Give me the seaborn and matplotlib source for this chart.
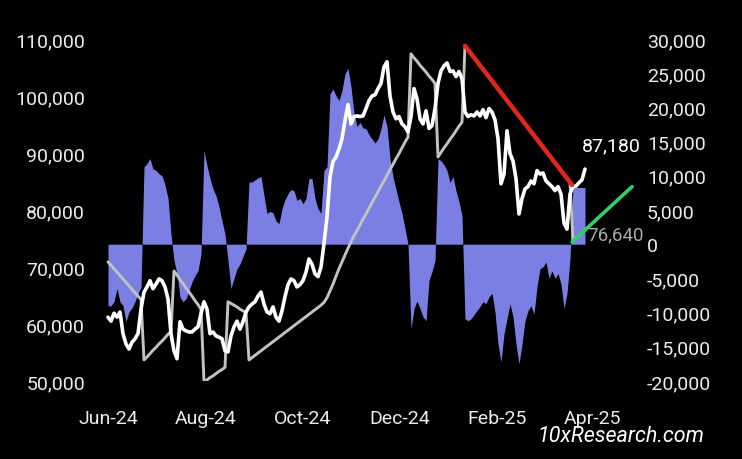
import numpy as np
import pandas as pd
import matplotlib
matplotlib.use("Agg")
import matplotlib.pyplot as plt
import seaborn as sns
from matplotlib.ticker import FuncFormatter

# ---------------- data ----------------
price = [
    61200, 60500, 61900, 61200, 62100, 58300, 56500, 55600, 56800, 57400,
    58300, 62600, 65600, 66500, 67600, 66200, 67000, 67900, 67600, 66500,
    64400, 58300, 55300, 53900, 60400, 59100, 58800, 58600, 58600, 59100,
    59500, 61800, 63900, 62600, 58300, 58600, 57900, 57700, 57400, 55300,
    55100, 57900, 59500, 60500, 59100, 60400, 62100, 63000, 63500, 63900,
    64900, 65600, 63500, 62100, 61800, 63000, 61200, 60500, 62300, 64800,
    66900, 67900, 67600, 66500, 66900, 67600, 69100, 71400, 70500, 68800,
    68300, 70000, 74100, 78800, 85800, 88500, 89300, 90700, 92500, 95700,
    98500, 95100, 96400, 96500, 96400, 96500, 97800, 99200, 100000, 100200,
    101300, 102200, 105100, 106000, 100000, 97200, 96000, 96400, 95100, 94600,
    93700, 96400, 101300, 99500, 96000, 95100, 97400, 94300, 94800, 97800,
    102200, 104400, 105300, 105800, 104300, 104400, 103400, 104300, 103000, 97200,
    96400, 96700, 96500, 97200, 96500, 97600, 96200, 97800, 97200, 95800,
    92500, 84600, 86300, 93900, 89900, 88600, 85500, 79300, 82000, 83700,
    84100, 85100, 84600, 86900, 86300, 86500, 85100, 84600, 84100, 83400,
    84100, 82800, 77700, 76640, 82800, 84100, 84200, 84800, 85300, 87180,
]

reference_level = [
    70900, 70300, 69700, 69100, 68500, 67900, 67300, 66700, 66100, 65500,
    64900, 64300, 53700, 54200, 54800, 55400, 55900, 56500, 57000, 57600,
    58200, 58700, 69300, 68600, 67800, 67100, 66300, 65600, 64900, 64100,
    63400, 62600, 49900, 50200, 50600, 50900, 51300, 51700, 52000, 52400,
    63900, 63600, 63300, 63000, 62600, 62300, 62000, 53700, 54100, 54500,
    54900, 55300, 55700, 56100, 56500, 56900, 57300, 57700, 58100, 58500,
    58900, 59300, 59700, 60100, 60500, 60900, 61300, 61700, 62100, 62500,
    62900, 63300, 63800, 64600, 65800, 67000, 68400, 69700, 70900, 72100,
    73300, 74400, 75500, 76400, 77400, 78400, 79300, 80300, 81300, 82200,
    83200, 84200, 85100, 86100, 87100, 88000, 89000, 89900, 90900, 91900,
    92800, 107400, 106700, 106100, 105400, 104800, 104200, 103500, 102900, 102200,
    89300, 90100, 90900, 91600, 92400, 93100, 93900, 94700, 95400, 108800,
    108100, 107500, 106800, 106100, 105400, 104700, 104000, 103300, 102700, 102000,
    101300, 100600, 99900, 99200, 98600, 97900, 97200, 96500, 95800, 95100,
    94500, 93800, 93100, 92400, 91700, 91000, 90400, 89700, 89000, 88300,
    87600, 86900, 86200, 85500, 84800, 74600, 75100, 75500, 76000, 76500,
]

spread = [
    -9000, -9000, -8400, -6500, -8400, -9000, -11300, -9900, -9300, -8400,
    -7200, -6300, 11300, 11800, 12500, 11000, 10800, 10300, 10000, 8700,
    6700, 1500, -2400, -4300, -7700, -8400, -8000, -6800, -5500, -4600,
    -3900, -1400, 13700, 11500, 9600, 8100, 7100, 5500, 3400, 1500,
    -2400, -6500, -5000, -3600, -2900, -1800, -700, 9100, 9100, 9400,
    9700, 9900, 7100, 4500, 4800, 4600, 3400, 3000, 5200, 6500,
    7400, 8000, 7800, 6400, 6700, 5900, 6700, 9600, 9600, 6700,
    5200, 4500, 10800, 11300, 22000, 22700, 21700, 21000, 22500, 24900,
    25700, 23000, 19100, 17200, 17800, 17000, 16900, 16000, 15400, 14800,
    15400, 16900, 18900, 17200, 12500, 9900, 8000, 6200, 4500, 2300,
    0, -12400, -9400, -8300, -9400, -10600, -11200, -5300, -4000, -2400,
    12500, 12200, 11600, 10800, 9000, 9900, 7800, 6200, 4200, -10900,
    -11200, -10900, -10300, -9700, -9100, -8400, -8700, -7700, -7200, -9900,
    -14600, -17200, -13100, -10900, -8700, -10600, -14600, -17500, -14600, -11200,
    -9700, -9000, -10200, -6200, -3600, -3300, -2600, -5000, -3900, -5000,
    -4300, -5800, -9400, -7200, -2100, 8400, 8300, 8300, 8300, 8300,
]

month_labels = ["Jun-24", "Aug-24", "Oct-24", "Dec-24", "Feb-25", "Apr-25"]
month_pos = [0, 32.4, 64.8, 97.2, 129.6, 161.5]

down_trend_x = [119, 154.7]
down_trend_y = [108800, 84400]
up_trend_x = [154.7, 174.7]
up_trend_y = [74400, 84100]

left_ticks = list(range(50000, 110001, 10000))
right_ticks = list(range(-20000, 30001, 5000))

# ---------------- styling ----------------
sns.set_theme(style="dark", rc={
    "axes.facecolor": "black",
    "figure.facecolor": "black",
    "savefig.facecolor": "black",
    "axes.grid": False,
})
plt.rcParams["font.family"] = ["Roboto", "DejaVu Sans"]

TXT = "#ececec"
FS = 14

df = pd.DataFrame({
    "idx": np.arange(len(price)),
    "price": price,
    "level": reference_level,
    "spread": spread,
})

fig = plt.figure(figsize=(7.42, 4.6), dpi=100)
ax = fig.add_axes([92 / 742, 78 / 460, 548 / 742, 342 / 460])
ax2 = ax.twinx()
ax.set_zorder(ax2.get_zorder() + 1)
ax.patch.set_visible(False)
ax2.set_facecolor("black")

# area on the secondary axis
ax2.fill_between(df["idx"], 0, df["spread"], color="#7b7fe3", linewidth=0)

# lines on the primary axis
sns.lineplot(data=df, x="idx", y="level", ax=ax, color="#c2c2c2", linewidth=2.1)
sns.lineplot(data=df, x="idx", y="price", ax=ax, color="white", linewidth=2.6)
sns.lineplot(x=down_trend_x, y=down_trend_y, ax=ax, color="#e3261c", linewidth=3.2)
sns.lineplot(x=up_trend_x, y=up_trend_y, ax=ax, color="#2fd06b", linewidth=2.6)

ax.set_xlim(-5.33, 177.33)
ax.set_ylim(50000, 110000)
ax2.set_ylim(-20000, 30000)

fmt = FuncFormatter(lambda v, p: f"{v:,.0f}")
ax.set_yticks(left_ticks)
ax.yaxis.set_major_formatter(fmt)
ax2.set_yticks(right_ticks)
ax2.yaxis.set_major_formatter(fmt)
ax.set_xticks(month_pos)
ax.set_xticklabels(month_labels)

ax.tick_params(axis="y", length=0, pad=5, labelsize=FS, labelcolor=TXT)
ax.tick_params(axis="x", length=0, pad=20, labelsize=FS, labelcolor=TXT)
ax2.tick_params(axis="y", length=0, pad=5, labelsize=FS, labelcolor=TXT)
ax.set_xlabel("")
ax.set_ylabel("")
ax2.set_ylabel("")
for a in (ax, ax2):
    a.grid(False)
    for s in a.spines.values():
        s.set_visible(False)

# value annotations: latest close and the low after the peak
last_i = len(price) - 1
ax.annotate(f"{price[-1]:,}", xy=(last_i, price[-1]), xytext=(19, 17),
            textcoords="offset points", ha="center", va="center",
            color="white", fontsize=FS)
peak_i = int(np.argmax(price))
low_i = peak_i + int(np.argmin(price[peak_i:]))
ax.annotate(f"{price[low_i]:,}", xy=(low_i, price[low_i]), xytext=(35, -4),
            textcoords="offset points", ha="center", va="center",
            color="#a9a9a9", fontsize=13.5)

fig.text(621 / 742, 1 - 437 / 460, "10xResearch.com", color="white",
         fontsize=15.5, style="italic", ha="center", va="center")

fig.savefig("out.png", dpi=100, facecolor="black")
